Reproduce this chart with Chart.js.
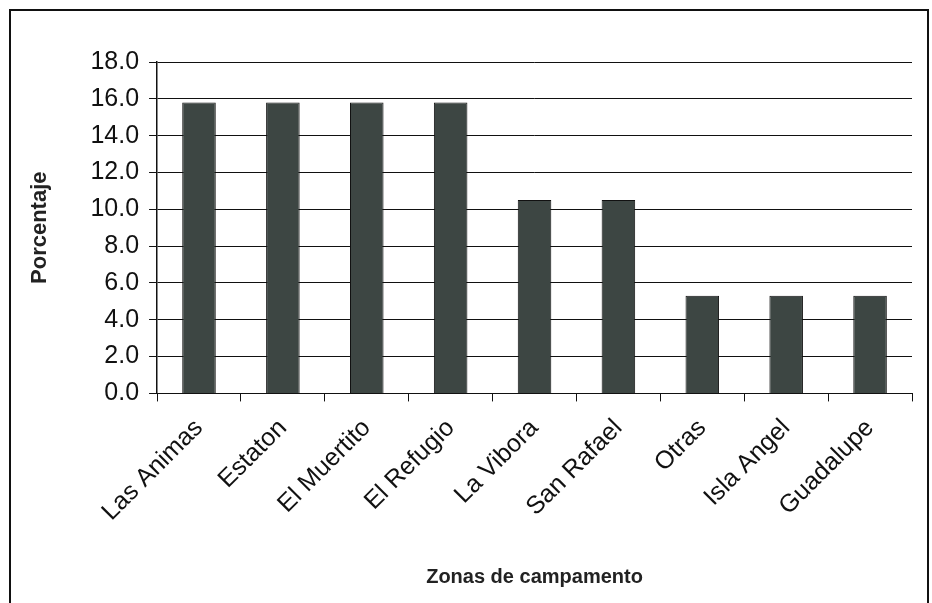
<!DOCTYPE html>
<html>
<head>
<meta charset="utf-8">
<script src="https://cdn.jsdelivr.net/npm/chart.js@4/dist/chart.umd.min.js"></script>
<style>
  html, body { margin: 0; padding: 0; background: #fff; }
  #wrap { width: 932px; height: 603px; position: relative; }
</style>
</head>
<body>
<div id="wrap"><canvas id="zonas-chart"></canvas></div>
<script>
// zonas y porcentajes
const zonas = ['Las Animas', 'Estaton', 'El Muertito', 'El Refugio', 'La Vibora', 'San Rafael', 'Otras', 'Isla Angel', 'Guadalupe'];
const porcentajes = [15.8, 15.8, 15.8, 15.8, 10.5, 10.5, 5.3, 5.3, 5.3];
const yMin = 0;
const yMax = 18;
const yStep = 2;

// marco negro alrededor de todo el grafico
const marco = {
    id: 'marco',
    afterDraw(chart) {
        const c = chart.ctx;
        c.save();
        c.strokeStyle = '#111';
        c.lineWidth = 2;
        c.beginPath();
        c.moveTo(10, 603);
        c.lineTo(10, 10);
        c.lineTo(928, 10);
        c.lineTo(928, 603);
        c.stroke();
        c.restore();
    }
};

Chart.defaults.font.family = '"Liberation Sans", Arial, sans-serif';
Chart.defaults.color = '#111';

var ctx = document.getElementById('zonas-chart').getContext('2d');
var zonaschart = new Chart(ctx, {
    type: 'bar',
    data: {
        labels: zonas,
        datasets: [{
            label: 'Porcentaje',
            data: porcentajes,
            backgroundColor: '#3d4643',
            borderColor: '#111',
            borderWidth: 1,
            categoryPercentage: 1,
            barPercentage: 0.4
        }]
    },
    options: {
        responsive: true,
        maintainAspectRatio: false,
        animation: false,
        layout: {
            padding: { top: 62, right: 20, bottom: 14, left: 27 }
        },
        plugins: {
            legend: { display: false },
            tooltip: { enabled: false }
        },
        scales: {
            x: {
                grid: {
                    display: true,
                    drawOnChartArea: false,
                    color: '#111',
                    tickLength: 8,
                    offset: true
                },
                border: { color: '#111', width: 1 },
                ticks: {
                    minRotation: 45,
                    maxRotation: 45,
                    padding: 12,
                    font: { size: 25 },
                    color: '#111'
                },
                title: {
                    display: true,
                    text: 'Zonas de campamento',
                    font: { size: 20, weight: 'bold' },
                    color: '#222',
                    padding: { top: 26, bottom: 0 }
                }
            },
            y: {
                min: yMin,
                max: yMax,
                grid: {
                    color: '#111',
                    lineWidth: 1,
                    tickLength: 8
                },
                border: { color: '#111', width: 1.5 },
                ticks: {
                    stepSize: yStep,
                    padding: 10,
                    font: { size: 25 },
                    color: '#111',
                    callback: (v) => v.toFixed(1)
                },
                title: {
                    display: true,
                    text: 'Porcentaje',
                    font: { size: 22, weight: 'bold' },
                    color: '#222',
                    padding: { top: 0, bottom: 27 }
                }
            }
        }
    },
    plugins: [marco]
});
</script>
</body>
</html>
